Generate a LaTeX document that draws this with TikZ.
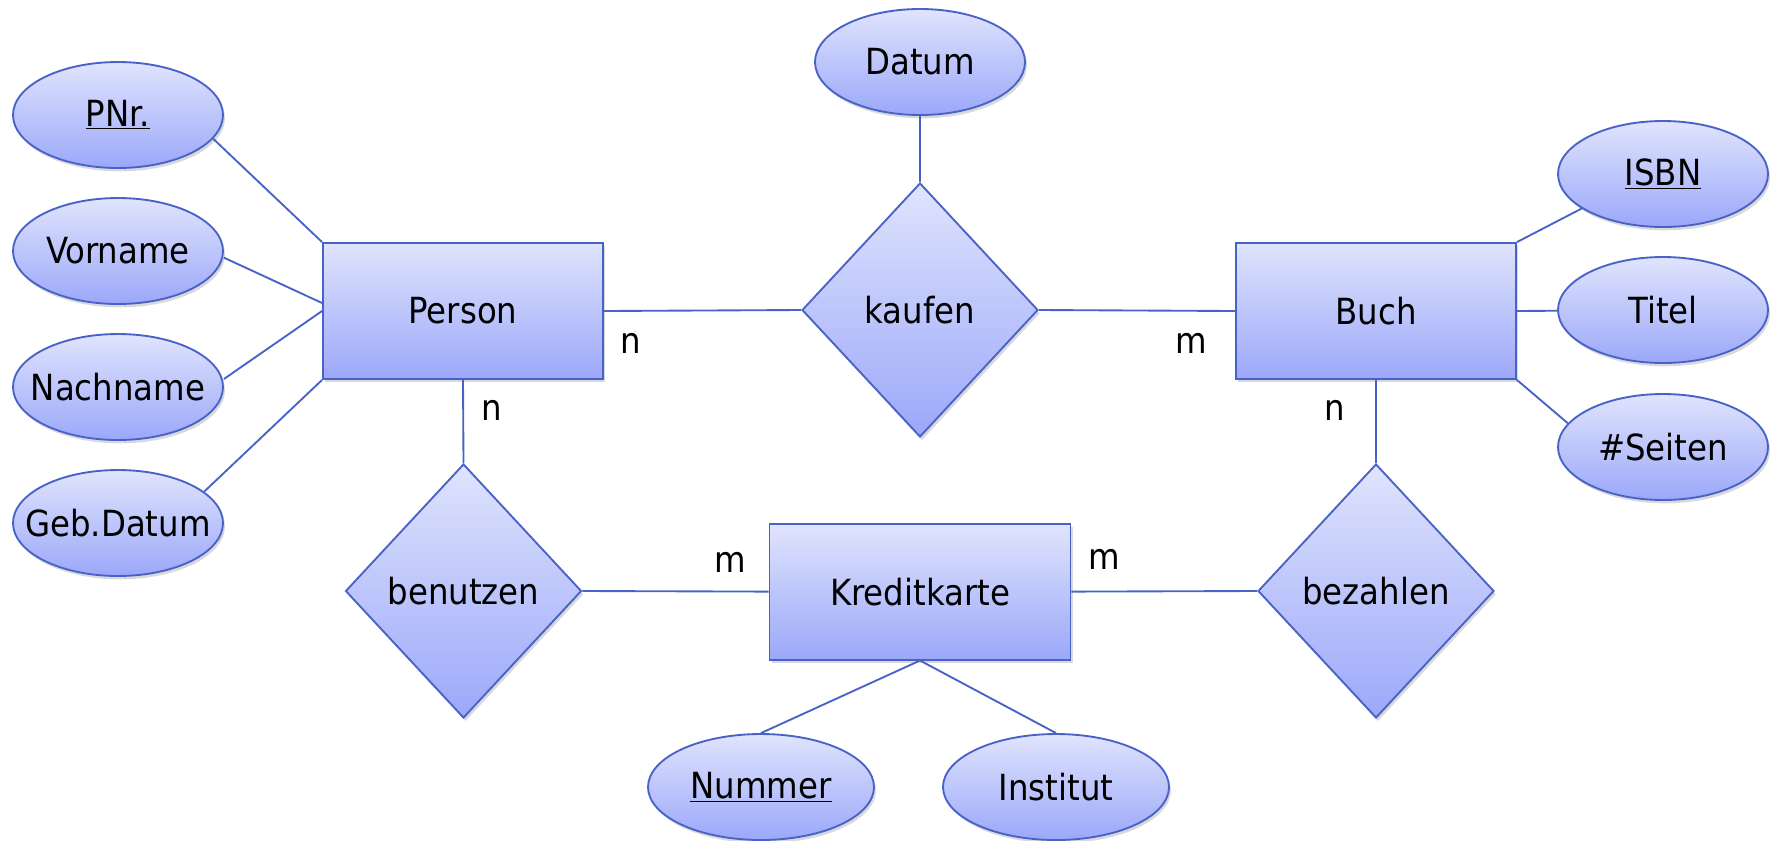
\documentclass[tikz,border=0pt]{standalone}
\usepackage{fontspec}
\setmainfont{DejaVu Sans Condensed}
\usetikzlibrary{shapes.geometric,shadows}
\pgfdeclarelayer{bg}
\pgfsetlayers{bg,main}
\definecolor{erline}{RGB}{72,98,200}
\definecolor{ertop}{RGB}{224,228,253}
\definecolor{erbot}{RGB}{155,168,249}
\newcommand{\zbox}[1]{\makebox[0pt][c]{#1}}
\tikzset{
  base/.style={draw=erline, line width=1.4pt, top color=ertop, bottom color=erbot,
    font=\fontsize{27}{32}\selectfont, inner sep=0pt,
    drop shadow={shadow xshift=1.5pt, shadow yshift=-2.5pt, opacity=0.25, fill=black!60}},
  entity/.style={base, rectangle, minimum width=210pt, minimum height=102pt},
  attr/.style={base, ellipse, minimum width=157.5pt, minimum height=79.5pt},
  rel/.style={base, diamond, minimum width=177pt, minimum height=190.5pt},
  conn/.style={draw=erline, line width=1.4pt},
  card/.style={font=\fontsize{27}{32}\selectfont, inner sep=0pt},
}
\begin{document}
\begin{tikzpicture}[x=0.75pt,y=-0.75pt]
\useasboundingbox (0,0) rectangle (1777,840);
% entities
\node[entity] (person) at (463,311) {Person};
\node[entity] (buch) at (1376,311) {Buch};
\node[entity, minimum width=225.75pt] (kk) at (920,591.6) {Kreditkarte};
% relationships
\node[rel] (kaufen) at (920,310) {\zbox{kaufen}};
\node[rel] (benutzen) at (463.5,591) {\zbox{benutzen}};
\node[rel] (bezahlen) at (1376,591) {\zbox{bezahlen}};
% attributes
\node[attr] (pnr) at (118,115) {\zbox{\underline{PNr.}}};
\node[attr] (vorname) at (118,251) {\zbox{Vorname}};
\node[attr] (nachname) at (118,387) {\zbox{Nachname}};
\node[attr] (geb) at (118,523) {\zbox{Geb.Datum}};
\node[attr] (datum) at (920,62) {\zbox{Datum}};
\node[attr] (isbn) at (1663,174) {\zbox{\underline{ISBN}}};
\node[attr] (titel) at (1663,310) {\zbox{Titel}};
\node[attr] (seiten) at (1663,447) {\zbox{\#Seiten}};
\node[attr, minimum width=169.5pt] (nummer) at (761,787) {\zbox{\underline{Nummer}}};
\node[attr, minimum width=169.5pt] (institut) at (1056,787) {\zbox{Institut}};
% cardinalities
\node[card] (c1) at (631,343) {n};
\node[card] (c2) at (1191,343) {m};
\node[card] (c3) at (492,410) {n};
\node[card] (c4) at (1335,410) {n};
\node[card] (c5) at (730,562) {m};
\node[card] (c6) at (1104,559) {m};
% connectors
\begin{pgfonlayer}{bg}
\draw[conn] (pnr.-14) -- (person.north west);
\draw[conn] ([yshift=-5pt]vorname.east) -- ([yshift=6pt]person.west);
\draw[conn] ([yshift=6pt]nachname.east) -- (person.west);
\draw[conn] (geb.20) -- (person.south west);
\draw[conn] (datum) -- (kaufen.north);
\draw[conn] (person.east) -- (kaufen.west);
\draw[conn] (kaufen.east) -- (buch.west);
\draw[conn] (isbn.203) -- (buch.north east);
\draw[conn] (titel) -- (buch.east);
\draw[conn] (seiten.166) -- (buch.south east);
\draw[conn] (person.south) -- (benutzen.north);
\draw[conn] (benutzen.east) -- (kk.west);
\draw[conn] (kk.east) -- (bezahlen.west);
\draw[conn] (buch.south) -- (bezahlen.north);
\draw[conn] (kk.south) -- (nummer.north);
\draw[conn] (kk.south) -- (institut.north);
\end{pgfonlayer}
\end{tikzpicture}
\end{document}
